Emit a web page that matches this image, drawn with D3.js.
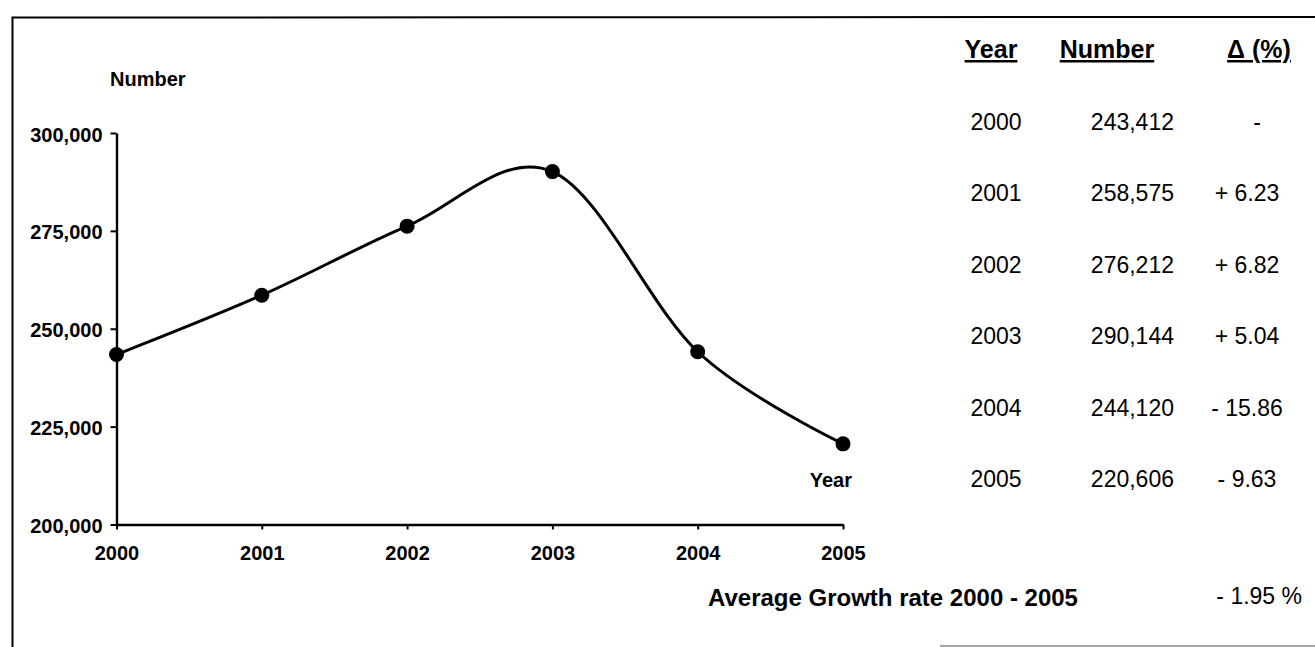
<!DOCTYPE html>
<html>
<head>
<meta charset="utf-8">
<script src="https://cdn.jsdelivr.net/npm/d3@7"></script>
<style>
  body { margin: 0; background: #fff; }
  svg { display: block; font-family: "Liberation Sans", Arial, sans-serif; }
</style>
</head>
<body>
<svg id="chart"></svg>
<script>
const years = [2000, 2001, 2002, 2003, 2004, 2005];
const counts = [243412, 258575, 276212, 290144, 244120, 220606];
const deltas = ["-", "+ 6.23", "+ 6.82", "+ 5.04", "- 15.86", "- 9.63"];
const yTicks = [200000, 225000, 250000, 275000, 300000];
const avgLabel = "Average Growth rate 2000 - 2005";
const avgValue = "- 1.95 %";

const width = 1315;
const height = 647;

const svg = d3.select("#chart").attr("width", width).attr("height", height);

// frame (scanned box edges)
svg.append("path")
  .attr("d", "M12.5,647 L12.5,17.5 L1315,17")
  .attr("fill", "none")
  .attr("stroke", "#000")
  .attr("stroke-width", 2);
svg.append("line")
  .attr("x1", 940).attr("x2", 1315).attr("y1", 646).attr("y2", 646)
  .attr("stroke", "#888").attr("stroke-width", 1.5);

const xScale = d3.scaleLinear().domain([2000, 2005]).range([116.5, 843]);
const yScale = d3.scaleLinear().domain([200000, 300000]).range([524.5, 133]);

// y-axis
const yAxis = svg.append("g")
  .attr("transform", `translate(${xScale(2000)},0)`)
  .call(d3.axisLeft(yScale).tickValues(yTicks).tickFormat(d3.format(",")).tickSize(6).tickSizeOuter(0));

// x-axis
const xAxis = svg.append("g")
  .attr("transform", `translate(0,${yScale(200000)})`)
  .call(d3.axisBottom(xScale).tickValues(years).tickFormat(d3.format("d")).tickSize(5).tickSizeOuter(0));

[yAxis, xAxis].forEach((g) => {
  g.select(".domain").attr("stroke-width", 2.4);
  g.selectAll(".tick line").attr("stroke-width", 2);
  g.selectAll("text")
    .attr("fill", "#000")
    .style("font-family", "'Liberation Sans', Arial, sans-serif")
    .style("font-size", "20px")
    .style("font-weight", "bold");
});
yAxis.selectAll("text").attr("x", -14).attr("dy", "0.4em");
xAxis.selectAll("text").attr("y", 19).attr("dy", "0.8em");

// axis titles
svg.append("text").attr("x", 110).attr("y", 86)
  .attr("font-size", 20).attr("font-weight", "bold").text("Number");
svg.append("text").attr("x", 852).attr("y", 487).attr("text-anchor", "end")
  .attr("font-size", 20).attr("font-weight", "bold").text("Year");

// smoothed line
const line = d3.line()
  .x((d, i) => xScale(years[i]))
  .y((d) => yScale(d))
  .curve(d3.curveCardinal.tension(0));

svg.append("path")
  .datum(counts)
  .attr("d", line)
  .attr("fill", "none")
  .attr("stroke", "#000")
  .attr("stroke-width", 3);

svg.selectAll(".dot")
  .data(counts)
  .join("circle")
  .attr("class", "dot")
  .attr("cx", (d, i) => xScale(years[i]))
  .attr("cy", (d) => yScale(d))
  .attr("r", 7.5)
  .attr("fill", "#000");

// table on the right
const rowY = d3.scaleLinear().domain([0, 5]).range([130, 487]);
const colYear = 996;
const colNumber = 1174;
const colDelta = 1247;

const headers = [
  { text: "Year", x: 991, anchor: "middle" },
  { text: "Number", x: 1107, anchor: "middle" },
  { text: "\u0394 (%)", x: 1259, anchor: "middle" },
];

svg.selectAll(".head")
  .data(headers)
  .join("text")
  .attr("class", "head")
  .attr("x", (d) => d.x)
  .attr("y", 58)
  .attr("text-anchor", (d) => d.anchor)
  .attr("font-size", 25)
  .attr("font-weight", "bold")
  .attr("text-decoration", "underline")
  .text((d) => d.text);

const rows = svg.selectAll(".row")
  .data(years)
  .join("g")
  .attr("class", "row")
  .attr("transform", (d, i) => `translate(0,${rowY(i)})`)
  .attr("font-size", 23);

rows.append("text").attr("x", colYear).attr("text-anchor", "middle").text((d) => d);
rows.append("text").attr("x", colNumber).attr("text-anchor", "end")
  .text((d, i) => d3.format(",")(counts[i]));
rows.append("text").attr("x", (d, i) => (i === 0 ? 1257 : colDelta)).attr("text-anchor", "middle")
  .text((d, i) => deltas[i]);

svg.append("text").attr("x", 708).attr("y", 606)
  .attr("font-size", 24).attr("font-weight", "bold").text(avgLabel);
svg.append("text").attr("x", 1302).attr("y", 604).attr("text-anchor", "end")
  .attr("font-size", 23).text(avgValue);
</script>
</body>
</html>
